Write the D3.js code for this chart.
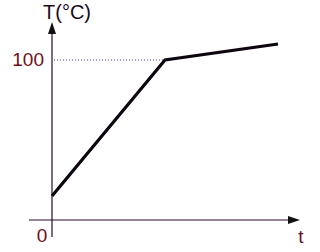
<!DOCTYPE html>
<html>
<head>
<meta charset="utf-8">
<script src="https://cdn.jsdelivr.net/npm/d3@7"></script>
<style>
body { margin:0; background:#fff; }
text { font-family: "Liberation Sans", Arial, sans-serif; }
</style>
</head>
<body>
<svg></svg>
<script>
// heating curve: time -> temperature
var times = [0, 1, 2]
var temps = [15, 100, 110]
var yTicks = [100]
var xLabel = "t"
var yLabel = "T(°C)"

var screen = {width:320, height:252}

var svg = d3.select("svg")
    .attr("width",screen.width)
    .attr("height",screen.height)

var xScale = d3.scaleLinear()
                .domain([0,2])
                .range([52,278])

var yScale = d3.scaleLinear()
                .domain([0,100])
                .range([220,60])

var axisColor = "#2b0a2e"

// x axis
svg.append("line")
    .attr("x1",29).attr("x2",292)
    .attr("y1",yScale(0)).attr("y2",yScale(0))
    .attr("stroke",axisColor).attr("stroke-width",1.2)
svg.append("path")
    .attr("d","M300,"+yScale(0)+" L288,"+(yScale(0)-4)+" L288,"+(yScale(0)+4)+" Z")
    .attr("fill","#111")

// y axis
svg.append("line")
    .attr("x1",xScale(0)).attr("x2",xScale(0))
    .attr("y1",237).attr("y2",30)
    .attr("stroke",axisColor).attr("stroke-width",1.2)
svg.append("path")
    .attr("d","M"+xScale(0)+",22 L"+(xScale(0)-4)+",34 L"+(xScale(0)+4)+",34 Z")
    .attr("fill","#111")

// dotted guide at 100
svg.selectAll(".guide")
    .data(yTicks)
    .enter()
    .append("line")
    .attr("x1",xScale(0)+2)
    .attr("x2",xScale(1))
    .attr("y1",function(d){return yScale(d)})
    .attr("y2",function(d){return yScale(d)})
    .attr("stroke","#4433cc")
    .attr("stroke-dasharray","1,2")

svg.selectAll(".ytick")
    .data(yTicks)
    .enter()
    .append("text")
    .attr("x",44)
    .attr("y",function(d){return yScale(d)+6})
    .attr("text-anchor","end")
    .attr("font-size",19)
    .attr("fill","#6e0f1e")
    .text(function(d){return d})

svg.append("text")
    .attr("x",42).attr("y",242)
    .attr("text-anchor","middle")
    .attr("font-size",19)
    .attr("fill","#6e0f1e")
    .text("0")

svg.append("text")
    .attr("x",301).attr("y",243)
    .attr("text-anchor","middle")
    .attr("font-size",19)
    .attr("fill","#6e0f1e")
    .text(xLabel)

svg.append("text")
    .attr("x",43).attr("y",19)
    .attr("font-size",20)
    .attr("fill","#1a0a1a")
    .text(yLabel)

// the curve
var line = d3.line()
    .x(function(d,i){return xScale(times[i])})
    .y(function(d){return yScale(d)})

svg.append("path")
    .datum(temps)
    .attr("d",line)
    .attr("fill","none")
    .attr("stroke","#0d0510")
    .attr("stroke-width",3.2)
</script>
</body>
</html>
